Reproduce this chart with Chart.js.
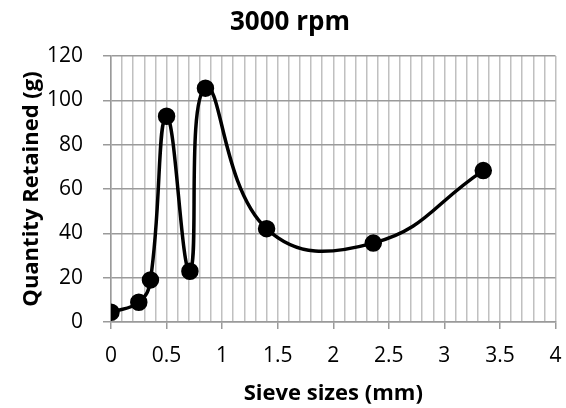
<!DOCTYPE html>
<html>
<head>
<meta charset="utf-8">
<script src="https://cdn.jsdelivr.net/npm/chart.js@4.4.0/dist/chart.umd.min.js"></script>
<style>
  html, body { margin: 0; padding: 0; background: #fff; }
  #wrap { width: 566px; height: 408px; }
</style>
</head>
<body>
<div id="wrap"><canvas id="myChart"></canvas></div>
<script>
// sieve opening (mm) and mass retained (g)
const sieveSizes = [0, 0.25, 0.355, 0.5, 0.71, 0.85, 1.4, 2.36, 3.35];
const quantityRetained = [4.4, 8.9, 19, 92.8, 22.9, 105.5, 42.1, 35.6, 68.3];
const xTickLabels = ['0', '0.5', '1', '1.5', '2', '2.5', '3', '3.5', '4'];
const yTickLabels = ['0', '20', '40', '60', '80', '100', '120'];
const chartTitle = '3000 rpm';

const isMajor = v => Math.abs(v * 2 - Math.round(v * 2)) < 1e-6;
const fontFam = "'Open Sans', 'DejaVu Sans', sans-serif";

const points = sieveSizes.map((s, i) => ({ x: s, y: quantityRetained[i] }));

// title sits a bit left of the plot centre, like the original
const titlePlugin = {
  id: 'topTitle',
  afterDraw(chart) {
    const c = chart.ctx;
    c.save();
    c.fillStyle = '#000';
    c.font = "bold 26px " + fontFam;
    c.textAlign = 'center';
    c.textBaseline = 'middle';
    c.fillText(chartTitle, 290, 23);
    c.restore();
  }
};

const ctx = document.getElementById('myChart');

const data = {
  datasets: [{
    label: chartTitle,
    data: points,
    showLine: true,
    tension: 0.45,
    borderColor: '#000',
    backgroundColor: '#000',
    borderWidth: 3.5,
    pointRadius: 7,
    pointBackgroundColor: '#000',
    pointBorderColor: '#000',
    fill: false
  }]
};

const config = {
  type: 'scatter',
  data: data,
  plugins: [titlePlugin],
  options: {
    responsive: true,
    maintainAspectRatio: false,
    animation: false,
    layout: { padding: { left: 0, right: 10, top: 56, bottom: 0 } },
    plugins: {
      legend: { display: false },
      tooltip: { enabled: false }
    },
    scales: {
      x: {
        type: 'linear',
        min: 0,
        max: 4,
        afterFit: scale => { scale.height = 86; scale.paddingLeft = 0; scale.paddingRight = 0; },
        ticks: {
          stepSize: 0.1,
          autoSkip: false,
          maxTicksLimit: 60,
          maxRotation: 0,
          color: '#000',
          padding: 14,
          font: { family: fontFam, size: 21 },
          callback: v => isMajor(v) ? xTickLabels[Math.round(v * 2)] : ''
        },
        grid: {
          color: '#c0c0c0',
          lineWidth: 1.5,
          tickLength: 7,
          tickColor: c => (c.tick && isMajor(c.tick.value)) ? '#9a9a9a' : 'rgba(0,0,0,0)',
          tickWidth: 1.5
        },
        border: { color: '#9a9a9a', width: 1.5 },
        title: {
          display: true,
          text: 'Sieve sizes (mm)',
          color: '#000',
          font: { family: fontFam, size: 22, weight: 'bold', lineHeight: 1.2 },
          padding: { top: 0, bottom: 1 }
        }
      },
      y: {
        min: 0,
        max: 120,
        afterFit: scale => { scale.width = 111; },
        ticks: {
          stepSize: 20,
          color: '#000',
          padding: 20,
          font: { family: fontFam, size: 21 },
          callback: v => yTickLabels[Math.round(v / 20)]
        },
        grid: {
          color: '#9a9a9a',
          lineWidth: 1.5,
          tickLength: 8,
          tickColor: '#9a9a9a'
        },
        border: { color: '#9a9a9a', width: 1.5 },
        title: {
          display: true,
          text: 'Quantity Retained (g)',
          color: '#000',
          font: { family: fontFam, size: 22, weight: 'bold', lineHeight: 1.2 },
          padding: { top: 19, bottom: 0 }
        }
      }
    }
  }
};

const myChart = new Chart(ctx, config);
</script>
</body>
</html>
